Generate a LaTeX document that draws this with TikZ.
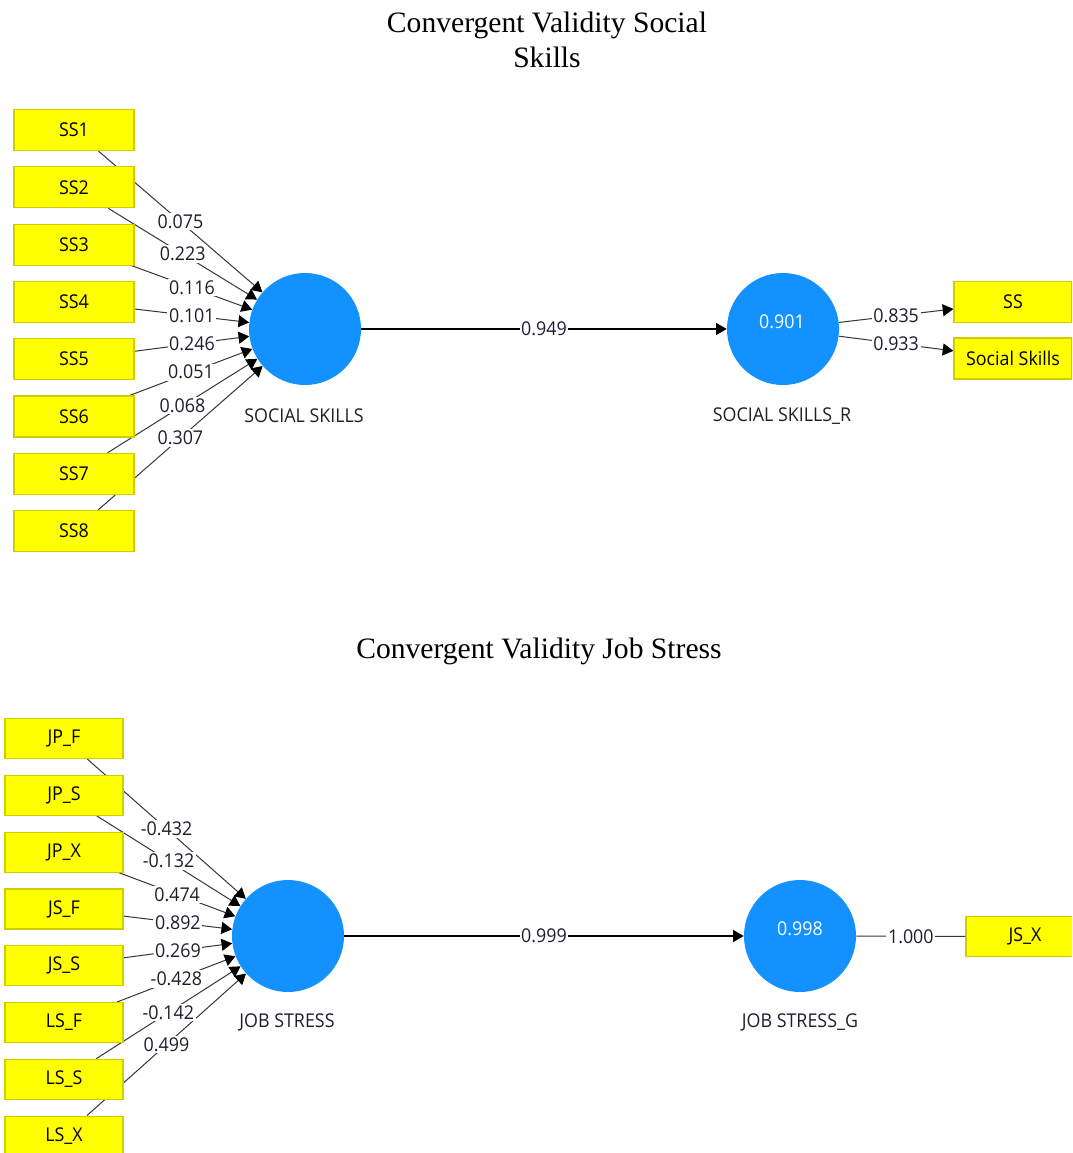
\documentclass[tikz,border=0pt]{standalone}
\usepackage{fontspec}
\setmainfont{Liberation Serif}
\newfontfamily\labfont[FakeStretch=0.94]{Open Sans}
\usetikzlibrary{arrows.meta}
\pgfdeclarelayer{bg}
\pgfsetlayers{bg,main}
\definecolor{boxyellow}{RGB}{255,255,0}
\definecolor{boxborder}{RGB}{205,205,0}
\definecolor{lvblue}{RGB}{18,145,255}
\definecolor{linegray}{RGB}{55,55,55}
\definecolor{txtdark}{RGB}{30,30,45}
\begin{document}
\begin{tikzpicture}[x=0.75pt,y=-0.75pt,
  lab/.style={font=\labfont\fontsize{14.25}{17}\selectfont},
  ind/.style={lab, draw=boxborder, fill=boxyellow, line width=0.9pt,
    minimum width=90pt, minimum height=30.75pt, inner sep=0pt, text=black},
  indb/.style={ind, minimum width=88.5pt, minimum height=30pt},
  lv/.style={circle, fill=lvblue, minimum size=84pt, inner sep=0pt},
  lvtxt/.style={lab, text=white, inner sep=0pt},
  lvname/.style={lab, text=txtdark, inner sep=0pt},
  wt/.style={lab, fill=white, inner sep=1.2pt, text=txtdark},
  ld/.style={draw=linegray, line width=0.75pt, -{Triangle[length=8pt,width=9pt,color=black]}},
  plainld/.style={draw=linegray, line width=0.75pt},
  mainarr/.style={draw=black, line width=1pt, -{Triangle[length=8pt,width=9pt]}},
  ttl/.style={font=\fontsize{22.2}{26.25}\selectfont, align=center, text=black, inner sep=0pt}
]
\clip (0,0) rectangle (1072,1153);
\begin{pgfonlayer}{bg}
\fill[white] (0,0) rectangle (1072,1153);
\end{pgfonlayer}

% ---------------- Top section ----------------
\node[ttl] (t1) at (547,39.5) {Convergent Validity Social\\Skills};

\foreach \i [count=\k from 0] in {1,...,8}
  \node[ind] (ss\i) at (74,{130+57.3*\k}) {SS\i};

\node[lv] (sk) at (305,329) {};
\node[lvname] (skname) at (304,416) {SOCIAL SKILLS};

\node[lv] (skr) at (783,329) {};
\node[lvtxt] (skrval) at (782,322) {0.901};
\node[lvname] (skrname) at (782,416) {SOCIAL SKILLS\_R};

\node[ind, minimum width=88.5pt] (ssx) at (1013,302) {SS};
\node[ind, minimum width=88.5pt] (ssk) at (1013,358.5) {Social Skills};

\begin{pgfonlayer}{bg}
\foreach \i in {1,...,8}
  \draw[ld] (ss\i) -- (sk);
\draw[ld] (skr) -- (ssx);
\draw[ld] (skr) -- (ssk);
\end{pgfonlayer}
\foreach \i/\w in {1/0.075,2/0.223,3/0.116,4/0.101,5/0.246,6/0.051,7/0.068,8/0.307}
  \path (ss\i) -- (sk) node[wt, midway] {\w};

\draw[mainarr] (sk) -- (skr) node[wt, midway] {0.949};
\path (skr) -- (ssx) node[wt, midway] {0.835};
\path (skr) -- (ssk) node[wt, midway] {0.933};

% ---------------- Bottom section ----------------
\node[ttl] (t2) at (539,651) {Convergent Validity Job Stress};

\foreach \n [count=\k from 0] in {JP\_F,JP\_S,JP\_X,JS\_F,JS\_S,LS\_F,LS\_S,LS\_X}
  \node[indb] (js\k) at (64,{738.5+56.8*\k}) {\n};

\node[lv] (jst) at (288,936) {};
\node[lvname] (jstname) at (287,1022) {JOB STRESS};

\node[lv] (jsg) at (800,936) {};
\node[lvtxt] (jsgval) at (800,929) {0.998};
\node[lvname] (jsgname) at (800,1022) {JOB STRESS\_G};

\node[indb] (jsx) at (1025,936.5) {JS\_X};

\begin{pgfonlayer}{bg}
\foreach \k in {0,...,7}
  \draw[ld] (js\k) -- (jst);
\end{pgfonlayer}
\foreach \k/\w in {0/-0.432,1/-0.132,2/0.474,3/0.892,4/0.269,5/-0.428,6/-0.142,7/0.499}
  \path (js\k) -- (jst) node[wt, midway] {\w};

\draw[mainarr] (jst) -- (jsg) node[wt, midway] {0.999};
\draw[plainld] (jsg) -- (jsx) node[wt, midway] {1.000};
\end{tikzpicture}
\end{document}
